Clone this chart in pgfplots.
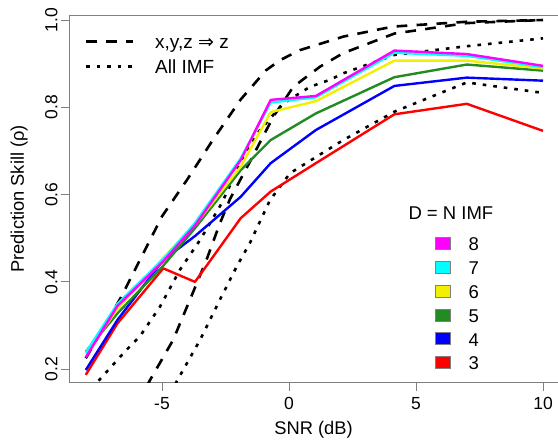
\documentclass[border=0pt]{standalone}
\usepackage{fontspec}
\setmainfont{Liberation Sans}
\newfontfamily\dejavu{DejaVu Sans}
\usepackage{pgfplots}
\pgfplotsset{compat=1.18}
\definecolor{rgreen}{HTML}{228B22}
\definecolor{axgray}{HTML}{808080}
\definecolor{rmag}{HTML}{FF00FF}
\definecolor{rcyan}{HTML}{00FFFF}
\definecolor{ryel}{HTML}{F0F000}
\definecolor{rblue}{HTML}{0000FF}
\definecolor{rred}{HTML}{FF0000}
\tikzset{
 dsh/.style={black, line width=2.6pt, line cap=butt, dash pattern=on 10.7pt off 9.3pt},
 dtt/.style={black, line width=2.6pt, line cap=butt, dash pattern=on 3.6pt off 7pt},
 col/.style={line width=2.4pt, line join=round}
}
\begin{document}
\begin{tikzpicture}
\useasboundingbox (-69pt,-58.3pt) rectangle (489pt,382.7pt);
\begin{axis}[
 at={(0pt,0pt)}, anchor=south west,
 scale only axis, width=489pt, height=367.7pt,
 xmin=-8.66, xmax=10.59, ymin=0.169, ymax=1.0115,
 axis lines*=left,
 axis line style={axgray, line width=0.9pt},
 tick style={axgray, line width=0.9pt},
 tick align=outside, major tick length=8pt,
 xtick={-5,0,5,10}, xticklabels={-5,0,5,10},
 ytick={0.2,0.4,0.6,0.8,1.0}, yticklabels={0.2,0.4,0.6,0.8,1.0},
 ticklabel style={font=\fontsize{17.5}{20}\selectfont},
 xticklabel style={yshift=-3pt},
 yticklabel style={rotate=90, anchor=south},
 xlabel={SNR (dB)}, ylabel={Prediction Skill (ρ)},
 label style={font=\fontsize{18.3}{21}\selectfont},
 xlabel style={at={(axis description cs:0.5,0)}, anchor=center, yshift=-47.3pt},
 ylabel style={at={(axis description cs:-0.1022,0.5)}, anchor=center},
 extra description/.code={\draw[axgray, line width=0.9pt] (0,1) -- (1,1);},
]
% x,y,z => z (upper)
\addplot[dsh] coordinates {(-8,0.225) (-6.6,0.366) (-5,0.55) (-4,0.635) (-3,0.725) (-1.9,0.818) (-0.9,0.885) (-0.35,0.908) (0.43,0.931) (2.14,0.962) (4.1,0.985) (7,0.996) (10,1.0)};
% x,y,z => z (lower)
\addplot[dsh] coordinates {(-6.3,0.08) (-5.47,0.175) (-4.56,0.267) (-3.9,0.359) (-3.25,0.45) (-2.72,0.534) (-2.32,0.59) (-1.54,0.675) (-0.62,0.778) (0.17,0.847) (1.22,0.893) (2.13,0.924) (4.15,0.969) (7,0.993) (10,1.0)};
% All IMF (upper)
\addplot[dtt] coordinates {(-8.1,0.14) (-7.58,0.168) (-6.4,0.244) (-5.87,0.275) (-5.08,0.343) (-4.29,0.428) (-3.5,0.496) (-2.65,0.58) (-1.67,0.702) (-1.14,0.748) (-0.22,0.809) (0.83,0.847) (1.61,0.863) (2.14,0.878) (4.15,0.92) (7,0.94) (10,0.958)};
% All IMF (lower)
\addplot[dtt] coordinates {(-5.0,0.10) (-4.42,0.172) (-3.5,0.267) (-2.72,0.359) (-2.06,0.435) (-1.54,0.489) (-0.75,0.587) (0.04,0.649) (1.09,0.687) (2.14,0.725) (4.15,0.79) (7,0.857) (10,0.833)};
% D = 3..8
\addplot[col, rred] coordinates {(-8,0.187) (-6.75,0.305) (-4.95,0.431) (-3.7,0.400) (-1.9,0.546) (-0.72,0.607) (1.06,0.672) (4.15,0.784) (7,0.808) (10,0.746)};
\addplot[col, rblue] coordinates {(-8,0.198) (-6.75,0.313) (-4.95,0.450) (-3.7,0.505) (-1.9,0.595) (-0.72,0.672) (1.06,0.748) (4.15,0.849) (7,0.868) (10,0.861)};
\addplot[col, rgreen] coordinates {(-8,0.240) (-6.75,0.328) (-4.95,0.437) (-3.7,0.523) (-1.9,0.656) (-0.72,0.725) (1.06,0.786) (4.15,0.869) (7,0.898) (10,0.884)};
\addplot[col, ryel] coordinates {(-8,0.235) (-6.75,0.338) (-4.95,0.455) (-3.7,0.530) (-1.9,0.664) (-0.72,0.789) (1.06,0.814) (4.15,0.907) (7,0.907) (10,0.889)};
\addplot[col, rcyan] coordinates {(-8,0.238) (-6.75,0.350) (-4.95,0.452) (-3.7,0.535) (-1.9,0.683) (-0.72,0.811) (1.06,0.823) (4.15,0.925) (7,0.918) (10,0.892)};
\addplot[col, rmag] coordinates {(-8,0.227) (-6.75,0.345) (-4.95,0.447) (-3.7,0.529) (-1.9,0.679) (-0.72,0.817) (1.06,0.826) (4.15,0.930) (7,0.922) (10,0.895)};
\end{axis}
% legend: line styles
\draw[dsh] (17pt,341pt) -- (64pt,341pt);
\draw[dtt] (17pt,316pt) -- (64pt,316pt);
\node[anchor=base west, inner sep=0pt, font=\fontsize{19}{22}\selectfont] at (86pt,334.4pt) {x,y,z {\dejavu ⇒} z};
\node[anchor=base west, inner sep=0pt, font=\fontsize{19}{22}\selectfont] at (86pt,308.7pt) {All IMF};
% legend: D = N IMF
\node[anchor=base west, inner sep=0pt, font=\fontsize{18.5}{22}\selectfont] at (339.3pt,163.4pt) {D = N IMF};
\foreach \c/\n [count=\i from 0] in {rmag/8,rcyan/7,ryel/6,rgreen/5,rblue/4,rred/3}{
  \pgfmathsetmacro{\yc}{139.4-\i*23.86}
  \filldraw[fill=\c, draw=axgray, line width=0.6pt] (366pt,\yc pt-6pt) rectangle (381pt,\yc pt+6pt);
  \pgfmathsetmacro{\yb}{132-\i*23.86}
  \node[anchor=base west, inner sep=0pt, font=\fontsize{18.5}{22}\selectfont] at (399.3pt,\yb pt) {\n};
}
\end{tikzpicture}
\end{document}
